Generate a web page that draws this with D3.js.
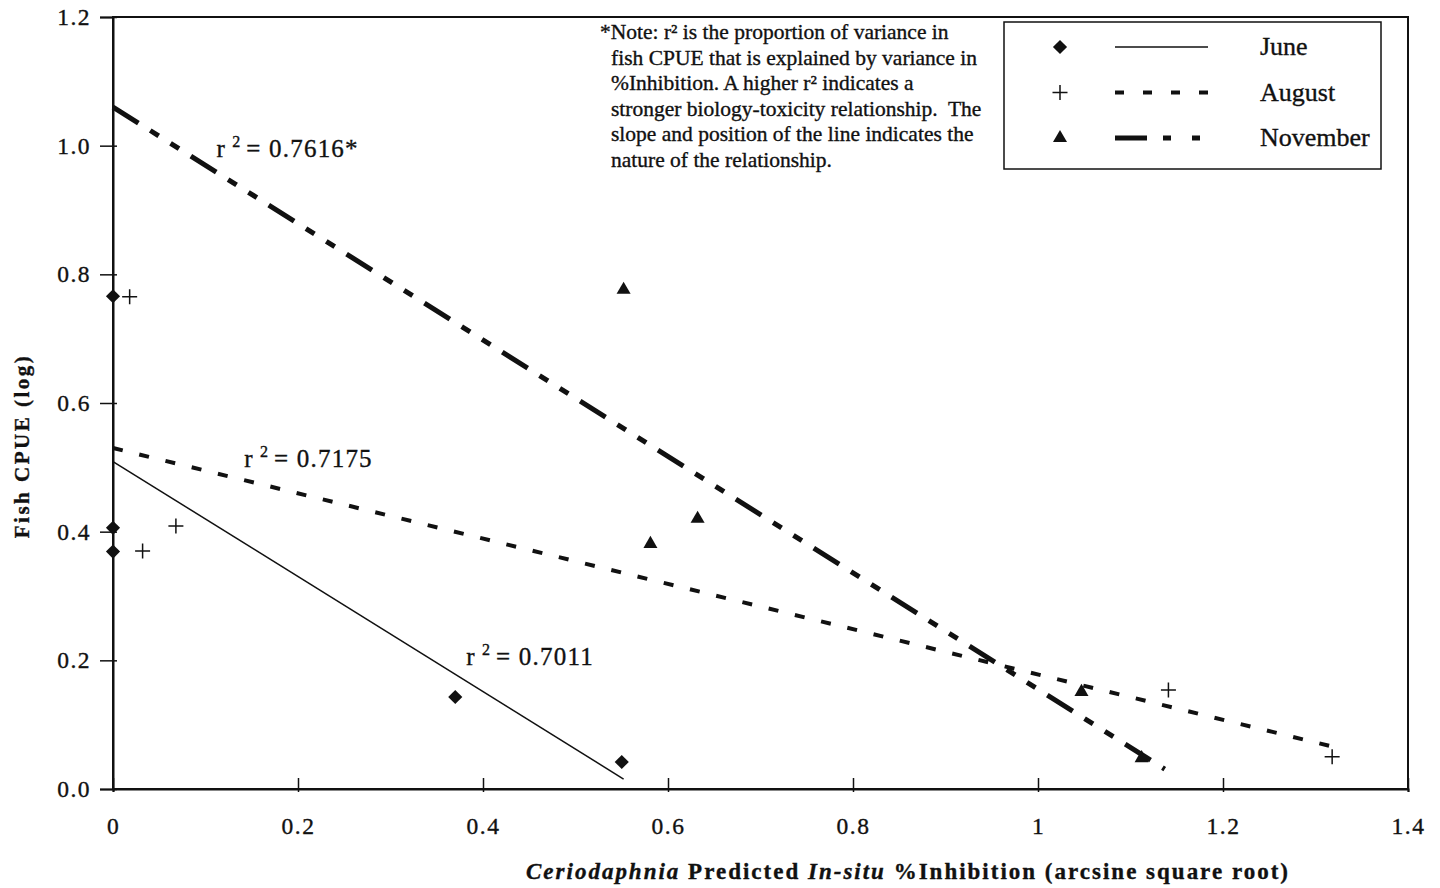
<!DOCTYPE html>
<html>
<head>
<meta charset="utf-8">
<script src="https://cdn.jsdelivr.net/npm/d3@7"></script>
<style>
  body { margin: 0; background: #fff; }
  text { font-family: "Liberation Serif", "Times New Roman", serif; fill: #111; stroke: #111; stroke-width: 0.35; white-space: pre; }
</style>
</head>
<body>
<div id="chart"></div>
<script>
const months = ["June", "August", "November"];

const juneX = [0, 0, 0, 0.37, 0.55];
const juneY = [0.766, 0.406, 0.369, 0.143, 0.042];
const augustX = [0.018, 0.032, 0.068, 1.141, 1.318];
const augustY = [0.765, 0.370, 0.409, 0.154, 0.050];
const novemberX = [0.552, 0.581, 0.632, 1.047, 1.112];
const novemberY = [0.776, 0.381, 0.420, 0.151, 0.048];

// linear trend lines: y = a + b*x, drawn from x=0 to trendEnd
const trendIntercept = [0.509, 0.530, 1.060];
const trendSlope = [-0.894, -0.352, -0.905];
const trendEnd = [0.552, 1.320, 1.137];

const rSquared = ["0.7011", "0.7175", "0.7616*"];
const rLabelX = [0.382, 0.142, 0.112];
const rLabelY = [0.193, 0.501, 0.983];

const xTicks = [0, 0.2, 0.4, 0.6, 0.8, 1, 1.2, 1.4];
const xTickLabels = ["0", "0.2", "0.4", "0.6", "0.8", "1", "1.2", "1.4"];
const yTicks = [0, 0.2, 0.4, 0.6, 0.8, 1.0, 1.2];
const yTickLabels = ["0.0", "0.2", "0.4", "0.6", "0.8", "1.0", "1.2"];

const noteLines = [
  "*Note: r\u00B2 is the proportion of variance in",
  "fish CPUE that is explained by variance in",
  "%Inhibition. A higher r\u00B2 indicates a",
  "stronger biology-toxicity relationship.  The",
  "slope and position of the line indicates the",
  "nature of the relationship."
];

const width = 1440, height = 888;

const svg = d3.select("#chart")
  .append("svg")
  .attr("width", width)
  .attr("height", height);

const x = d3.scaleLinear().domain([0, 1.4]).range([113, 1408]);
const y = d3.scaleLinear().domain([0, 1.2]).range([789, 17]);

// marker shapes
const diamond = { draw(c, size) {
  const r = Math.sqrt(size) / 2 * Math.SQRT2;
  c.moveTo(0, -r); c.lineTo(r, 0); c.lineTo(0, r); c.lineTo(-r, 0); c.closePath();
} };
const plus = { draw(c, size) {
  const r = Math.sqrt(size) / 2;
  c.moveTo(-r, 0); c.lineTo(r, 0); c.moveTo(0, -r); c.lineTo(0, r);
} };

const series = [
  { name: months[0], xs: juneX, ys: juneY, symbol: d3.symbol(diamond, 100), fill: "#111", stroke: "none", dash: null, lw: 1.5 },
  { name: months[1], xs: augustX, ys: augustY, symbol: d3.symbol(plus, 225), fill: "none", stroke: "#111", dash: "10,17", lw: 4 },
  { name: months[2], xs: novemberX, ys: novemberY, symbol: d3.symbol(d3.symbolTriangle, 85), fill: "#111", stroke: "none", dash: "30,14,10,14,10,14", lw: 5 }
];

// plot frame
svg.append("rect")
  .attr("x", x(0)).attr("y", y(1.2))
  .attr("width", x(1.4) - x(0)).attr("height", y(0) - y(1.2))
  .attr("fill", "none").attr("stroke", "#111").attr("stroke-width", 2);

// axes
const yAxis = svg.append("g")
  .attr("transform", `translate(${x(0)},0)`)
  .call(d3.axisLeft(y).tickValues(yTicks).tickSize(13).tickFormat((d, i) => yTickLabels[i]));
yAxis.select(".domain").attr("stroke", "#111").attr("stroke-width", 2);
yAxis.selectAll(".tick line").attr("x1", 4).attr("stroke", "#111").attr("stroke-width", 1.5);
yAxis.selectAll(".tick text")
  .attr("x", -22)
  .attr("font-size", 23.5).attr("letter-spacing", 1.5)
  .style("font-family", "'Liberation Serif', serif");

const xAxis = svg.append("g")
  .attr("transform", `translate(0,${y(0)})`)
  .call(d3.axisBottom(x).tickValues(xTicks).tickSize(3).tickFormat((d, i) => xTickLabels[i]));
xAxis.select(".domain").attr("stroke", "#111").attr("stroke-width", 2);
xAxis.selectAll(".tick line").attr("y1", -11).attr("stroke", "#111").attr("stroke-width", 1.5);
xAxis.selectAll(".tick text")
  .attr("y", 28)
  .attr("font-size", 23.5).attr("letter-spacing", 1.5)
  .style("font-family", "'Liberation Serif', serif");
svg.selectAll(".tick text").attr("fill", "#111");

// trend lines
const line = d3.line().x(d => x(d[0])).y(d => y(d[1]));
series.forEach((s, i) => {
  const pts = [[0, trendIntercept[i]], [trendEnd[i], trendIntercept[i] + trendSlope[i] * trendEnd[i]]];
  svg.append("path")
    .attr("d", line(pts))
    .attr("fill", "none")
    .attr("stroke", "#111")
    .attr("stroke-width", s.lw)
    .attr("stroke-dasharray", s.dash);
});

// points
series.forEach(s => {
  svg.append("g")
    .selectAll("path")
    .data(s.xs.map((v, i) => [v, s.ys[i]]))
    .join("path")
    .attr("transform", d => `translate(${x(d[0])},${y(d[1])})`)
    .attr("d", s.symbol)
    .attr("fill", s.fill)
    .attr("stroke", s.stroke)
    .attr("stroke-width", 1.5);
});

// r-squared labels
rSquared.forEach((r, i) => {
  const t = svg.append("text")
    .attr("x", x(rLabelX[i])).attr("y", y(rLabelY[i]))
    .attr("font-size", 25).attr("letter-spacing", 1.2);
  t.append("tspan").text("r");
  t.append("tspan").attr("dx", 6).attr("dy", -10).attr("font-size", 16).text("2");
  t.append("tspan").attr("dx", 5).attr("dy", 10).text("= " + r);
});

// note
const note = svg.append("text").attr("font-size", 21.5);
noteLines.forEach((l, i) => {
  note.append("tspan")
    .attr("x", i === 0 ? 600 : 611)
    .attr("y", 39 + i * 25.6)
    .text(l);
});

// legend
const legend = svg.append("g");
legend.append("rect")
  .attr("x", 1004).attr("y", 22).attr("width", 377).attr("height", 147)
  .attr("fill", "#fff").attr("stroke", "#111").attr("stroke-width", 1.5);
series.forEach((s, i) => {
  const ly = 47 + i * 45.5;
  legend.append("path")
    .attr("transform", `translate(1060,${ly})`)
    .attr("d", s.symbol)
    .attr("fill", s.fill).attr("stroke", s.stroke).attr("stroke-width", 1.5);
  legend.append("line")
    .attr("x1", 1115).attr("x2", 1208).attr("y1", ly).attr("y2", ly)
    .attr("stroke", "#111").attr("stroke-width", s.lw)
    .attr("stroke-dasharray", i === 1 ? "9,19" : i === 2 ? "32,16,8,21,8,20" : null);
  legend.append("text")
    .attr("x", 1260).attr("y", ly + 8)
    .attr("font-size", 26)
    .text(s.name);
});

// axis titles
const xt = svg.append("text")
  .attr("x", 907).attr("y", 879)
  .attr("text-anchor", "middle")
  .attr("font-size", 23).attr("font-weight", "bold")
  .attr("textLength", 762).attr("lengthAdjust", "spacing");
xt.append("tspan").attr("font-style", "italic").text("Ceriodaphnia");
xt.append("tspan").text(" Predicted ");
xt.append("tspan").attr("font-style", "italic").text("In-situ");
xt.append("tspan").text(" %Inhibition (arcsine square root)");

svg.append("text")
  .attr("transform", "translate(29,446) rotate(-90)")
  .attr("text-anchor", "middle")
  .attr("font-size", 21).attr("font-weight", "bold").attr("letter-spacing", 2.5)
  .text("Fish CPUE (log)");
</script>
</body>
</html>
